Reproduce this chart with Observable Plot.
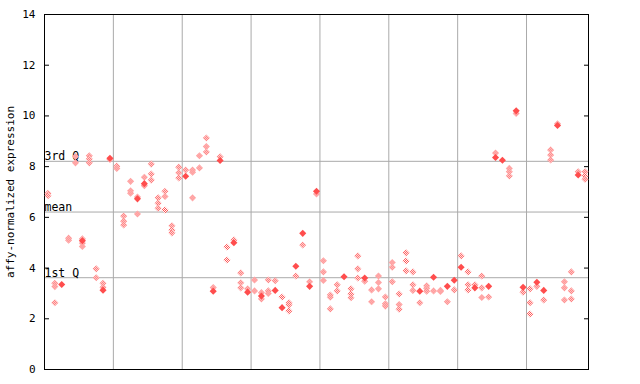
<!DOCTYPE html>
<html>
<head>
<meta charset="utf-8">
<script src="https://cdn.jsdelivr.net/npm/d3@7"></script>
<script src="https://cdn.jsdelivr.net/npm/@observablehq/plot@0.6"></script>
<style>
  html, body { margin: 0; padding: 0; background: #fff; }
</style>
</head>
<body>
<div id="chart"></div>
<script>
// Sample index runs 1..79 (one entry per sample in each array below)
// Filled (solid) diamond value per sample, null where none is drawn
const filledVals = [
  null, null, 3.35, null, null, 5.08, null, null, 3.13, 8.33,
  null, null, null, 6.73, 7.33, null, null, null, null, null,
  7.62, null, null, null, 3.09, 8.24, null, 5.0, null, 3.05,
  null, 2.9, null, 3.12, 2.44, null, 4.07, 5.37, 3.28, 7.03,
  null, null, null, 3.66, null, null, 3.61, null, null, null,
  null, null, null, null, 3.09, null, 3.64, null, 3.28, 3.52,
  4.03, null, 3.22, null, 3.28, 8.36, 8.25, null, 10.2, 3.24,
  null, 3.44, 3.12, null, 9.62, null, null, 7.67, null
];
// Checkered (hollow) diamond values per sample
const hollowVals = [
  [6.95, 6.85], [3.4, 3.27, 2.63], [], [5.18, 5.1], [8.4, 8.15],
  [5.15, 4.98, 4.85], [8.43, 8.3, 8.15], [3.97, 3.62], [3.4, 3.24], [8.28],
  [8.02, 7.93], [6.05, 5.85, 5.7], [7.42, 7.05, 6.95], [6.8, 6.13], [7.58, 7.25],
  [8.1, 7.71, 7.47], [6.77, 6.56, 6.36], [7.03, 6.82, 6.29], [5.67, 5.5, 5.39], [7.98, 7.76, 7.55],
  [7.87], [7.87, 7.78, 6.77], [8.43, 7.95], [9.13, 8.79, 8.58], [3.23],
  [8.39], [4.83, 4.32], [5.11], [3.81, 3.42, 3.22], [3.18],
  [3.53, 3.1], [3.03, 2.78], [3.53, 3.1, 3.0], [3.5], [2.86],
  [2.63, 2.55, 2.31], [3.69], [4.91], [3.46], [6.92],
  [4.29, 3.85, 3.51], [2.94, 2.85, 2.39], [3.34, 3.1], [], [3.18, 2.98, 2.83],
  [4.48, 3.97, 3.61], [3.48], [3.14, 2.67], [3.69, 3.43, 3.18], [2.86, 2.59, 2.5],
  [4.22, 4.03, 3.46], [2.98, 2.56, 2.38], [4.6, 4.28, 3.89], [3.85, 3.34, 3.12], [2.63],
  [3.3, 3.2, 3.09], [3.1], [3.12, 3.08], [2.67], [3.14],
  [4.48], [3.85, 3.34, 3.14], [3.34], [3.69, 3.22, 2.84], [2.86],
  [8.54], [], [7.93, 7.8, 7.63], [10.1], [3.05],
  [3.18, 2.63, 2.19], [3.28], [2.74], [8.66, 8.46, 8.26], [9.69],
  [3.46, 3.22, 2.74], [3.85, 3.1, 2.78], [7.8], [7.8, 7.63, 7.5]
];
// Summary lines
const statNames = ["3rd Q", "mean", "1st Q"];
const statValues = [8.21, 6.21, 3.62];
// Group separators (between every 10 samples)
const groupBreaks = [10.5, 20.5, 30.5, 40.5, 50.5, 60.5, 70.5];
const yTicks = [0, 2, 4, 6, 8, 10, 12, 14];
const yLabel = "affy-normalized expression";

const nSamples = hollowVals.length;
const hollowData = hollowVals.flatMap((vs, k) => vs.map(v => ({i: k + 1, v})));
const filledData = filledVals.map((v, k) => ({i: k + 1, v})).filter(d => d.v != null);
const stats = statNames.map((name, k) => ({name, v: statValues[k]}));

const red = "#ff4d4d";
const font = "DejaVu Sans Mono";

const chart = Plot.plot({
  width: 640,
  height: 384,
  marginLeft: 44,
  marginRight: 52,
  marginTop: 14,
  marginBottom: 15,
  style: {fontFamily: font, fontSize: "11px", color: "black", background: "white", overflow: "visible"},
  x: {domain: [0.5, nSamples + 0.5], axis: null},
  y: {domain: [0, 14], ticks: yTicks, label: null},
  marks: [
    Plot.ruleX(groupBreaks, {stroke: "#aaaaaa", strokeWidth: 1}),
    Plot.ruleY(stats, {y: "v", stroke: "#aaaaaa", strokeWidth: 1}),
    Plot.frame({stroke: "black", strokeWidth: 1}),
    Plot.axisY(yTicks, {anchor: "left", tickSize: -5, tickPadding: 14, label: null, stroke: "black", fill: "black", fontSize: 11}),
    Plot.axisY(yTicks, {anchor: "right", tickSize: -5, tickFormat: () => "", label: null, stroke: "black"}),
    Plot.text([yLabel], {text: d => d, frameAnchor: "left", textAnchor: "middle", rotate: -90, dx: -34, fill: "black", fontSize: 11}),
    Plot.text(stats, {y: "v", text: "name", frameAnchor: "left", textAnchor: "start", lineAnchor: "bottom", dy: -1, fill: "black", fontSize: 11.5}),
    Plot.dot(hollowData, {x: "i", y: "v", symbol: "diamond2", r: 3.2, fill: "url(#chk)", stroke: null}),
    Plot.dot(filledData, {x: "i", y: "v", symbol: "diamond2", r: 3.2, fill: red, stroke: null})
  ]
});

// checkered pattern used by the hollow diamonds
const defs = d3.select(chart).insert("defs", ":first-child");
const pat = defs.append("pattern").attr("id", "chk").attr("patternUnits", "userSpaceOnUse")
  .attr("width", 2).attr("height", 2);
pat.append("rect").attr("width", 2).attr("height", 2).attr("fill", "white");
pat.append("rect").attr("x", 0).attr("y", 0).attr("width", 1).attr("height", 1).attr("fill", red);
pat.append("rect").attr("x", 1).attr("y", 1).attr("width", 1).attr("height", 1).attr("fill", red);

document.getElementById("chart").appendChild(chart);
</script>
</body>
</html>
